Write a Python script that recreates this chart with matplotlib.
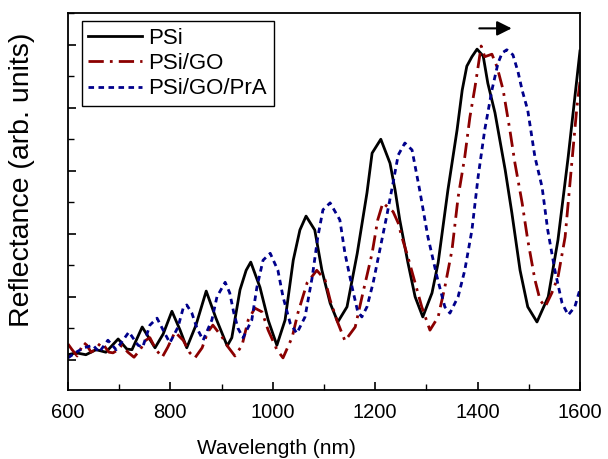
import matplotlib
matplotlib.use("Agg")
import matplotlib.pyplot as plt
from matplotlib.ticker import MultipleLocator, NullFormatter

plt.rcParams["font.family"] = ["Liberation Sans", "DejaVu Sans"]

# reflectance spectra (arb. units)
psi_wl = [600, 616, 635, 655, 674, 698, 715, 725, 745, 770, 786, 803, 819, 832, 850,
          870, 889, 911, 920, 936, 948, 957, 975, 991, 1008, 1024, 1040, 1053, 1065,
          1082, 1096, 1112, 1127, 1145, 1165, 1184, 1194, 1211, 1229, 1239, 1248, 1264,
          1278, 1293, 1311, 1323, 1342, 1360, 1370, 1379, 1389, 1399, 1411, 1420, 1434,
          1454, 1467, 1483, 1498, 1516, 1538, 1557, 1577, 1600]
psi_r = [0.08, 0.11, 0.08, 0.16, 0.12, 0.33, 0.17, 0.16, 0.52, 0.19, 0.41, 0.77, 0.47,
         0.19, 0.55, 1.09, 0.66, 0.22, 0.35, 1.11, 1.42, 1.55, 1.15, 0.63, 0.23, 0.63,
         1.58, 2.06, 2.28, 2.06, 1.42, 0.90, 0.60, 0.84, 1.69, 2.65, 3.28, 3.50, 3.12,
         2.69, 2.22, 1.54, 1.00, 0.68, 1.06, 1.54, 2.69, 3.65, 4.28, 4.66, 4.81, 4.93,
         4.82, 4.39, 3.92, 3.01, 2.33, 1.42, 0.84, 0.60, 1.00, 1.90, 3.22, 4.90]

go_wl = [600, 608, 618, 631, 637, 645, 653, 664, 670, 680, 688, 698, 705, 717, 729,
         741, 752, 760, 772, 784, 795, 809, 825, 838, 848, 862, 873, 883, 901, 913,
         926, 940, 952, 965, 979, 991, 1008, 1020, 1038, 1049, 1067, 1086, 1102, 1112,
         1125, 1141, 1161, 1176, 1194, 1205, 1215, 1235, 1245, 1252, 1264, 1278, 1291,
         1307, 1323, 1336, 1350, 1362, 1375, 1385, 1395, 1401, 1407, 1414, 1428, 1438,
         1450, 1463, 1473, 1487, 1498, 1512, 1522, 1532, 1545, 1557, 1571, 1584, 1594,
         1600]
go_r = [0.25, 0.16, 0.06, 0.27, 0.23, 0.12, 0.16, 0.27, 0.23, 0.12, 0.11, 0.16, 0.23,
        0.12, 0.04, 0.16, 0.31, 0.35, 0.16, 0.04, 0.20, 0.44, 0.31, 0.11, 0.03, 0.19,
        0.44, 0.55, 0.36, 0.20, 0.06, 0.23, 0.63, 0.82, 0.76, 0.47, 0.16, 0.03, 0.36,
        0.74, 1.22, 1.42, 1.27, 0.95, 0.63, 0.30, 0.52, 1.06, 1.69, 2.22, 2.49, 2.35,
        2.17, 1.95, 1.63, 1.22, 0.84, 0.47, 0.68, 1.15, 1.74, 2.58, 3.22, 3.85, 4.33,
        4.65, 4.98, 4.81, 4.85, 4.65, 4.28, 3.65, 3.12, 2.49, 1.90, 1.27, 0.95, 0.84,
        1.06, 1.31, 1.95, 3.12, 4.01, 4.41]

pra_wl = [600, 616, 631, 649, 661, 678, 694, 719, 737, 746, 760, 774, 789, 799, 815,
          825, 832, 842, 852, 864, 881, 891, 907, 916, 924, 932, 942, 959, 969, 981,
          995, 1010, 1020, 1034, 1047, 1063, 1077, 1088, 1098, 1112, 1131, 1141, 1155,
          1166, 1174, 1184, 1196, 1209, 1223, 1235, 1245, 1258, 1272, 1287, 1303, 1321,
          1336, 1346, 1362, 1375, 1389, 1401, 1414, 1428, 1440, 1448, 1457, 1469, 1479,
          1487, 1498, 1512, 1526, 1537, 1551, 1565, 1577, 1590, 1600]
pra_r = [0.03, 0.12, 0.19, 0.23, 0.12, 0.31, 0.16, 0.44, 0.23, 0.20, 0.55, 0.66, 0.42,
         0.27, 0.52, 0.82, 0.87, 0.74, 0.50, 0.31, 0.63, 1.00, 1.23, 1.06, 0.74, 0.50,
         0.35, 0.63, 1.15, 1.58, 1.69, 1.42, 1.00, 0.58, 0.42, 0.68, 1.31, 1.95, 2.38,
         2.49, 2.22, 1.69, 1.15, 0.76, 0.68, 0.84, 1.22, 1.74, 2.30, 2.81, 3.25, 3.44,
         3.33, 2.69, 1.95, 1.31, 0.84, 0.74, 1.00, 1.42, 2.06, 2.90, 3.65, 4.28, 4.71,
         4.87, 4.92, 4.84, 4.57, 4.28, 3.96, 3.22, 2.74, 2.06, 1.42, 0.90, 0.71, 0.84,
         1.12]

labels = ["PSi", "PSi/GO", "PSi/GO/PrA"]

fig = plt.figure(figsize=(6.08, 4.59), dpi=100)
ax = fig.add_axes([0.1118, 0.1503, 0.8421, 0.8214])

ax.plot(psi_wl, psi_r, color="black", lw=2.0, ls="-", label=labels[0])
ax.plot(go_wl, go_r, color="#8b0000", lw=2.0, ls=(0, (5.5, 2.2, 1, 2.2)), label=labels[1])
ax.plot(pra_wl, pra_r, color="#00008b", lw=2.0, ls=(0, (2.0, 1.6)), label=labels[2])

# red shift arrow
ax.annotate("", xy=(1472, 5.26), xytext=(1398, 5.26),
            arrowprops=dict(arrowstyle="-|>", mutation_scale=22, lw=1.5, color="black"))

ax.set_xlim(600, 1600)
ax.set_ylim(-0.48, 5.504)
ax.xaxis.set_major_locator(MultipleLocator(200))
ax.xaxis.set_minor_locator(MultipleLocator(100))
ax.yaxis.set_major_locator(MultipleLocator(1))
ax.yaxis.set_minor_locator(MultipleLocator(0.5))
ax.yaxis.set_major_formatter(NullFormatter())
ax.tick_params(which="both", direction="in", top=False, right=False, labelsize=14.5, pad=9)
ax.tick_params(which="major", length=6, width=1.2)
ax.tick_params(which="minor", length=4, width=1.0)
for s in ax.spines.values():
    s.set_linewidth(1.3)

ax.set_xlabel("Wavelength (nm)", fontsize=15)
ax.set_ylabel("Reflectance (arb. units)", fontsize=20.5)
ax.xaxis.set_label_coords(0.408, -0.13)
ax.yaxis.set_label_coords(-0.064, 0.557)

leg = ax.legend(loc="upper left", bbox_to_anchor=(0.027, 0.979), borderaxespad=0,
                fontsize=16, fancybox=False, edgecolor="black", framealpha=1,
                handlelength=2.4, handletextpad=0.3, labelspacing=0.2, borderpad=0.3)
leg.get_frame().set_linewidth(1.0)

plt.savefig("out.png", dpi=100)
